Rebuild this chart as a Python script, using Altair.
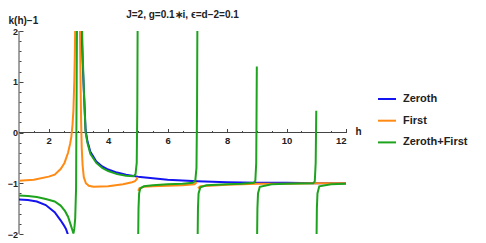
import altair as alt
import pandas as pd

# ---------------- data ----------------
# Zeroth (blue): two branches
zeroth_h_1 = [1.0, 1.3, 1.6, 1.9, 2.2, 2.4, 2.5, 2.58, 2.64, 2.67]
zeroth_v_1 = [-1.32, -1.33, -1.36, -1.43, -1.57, -1.73, -1.82, -1.9, -2.0, -2.06]
zeroth_h_2 = [3.1, 3.14, 3.18, 3.24, 3.3, 3.4, 3.6, 3.8, 4.0, 4.3, 4.6, 5.0, 5.5, 6.0, 7.0, 8.0, 9.0, 10.0, 11.0, 12.0]
zeroth_v_2 = [2.05, 1.4, 0.85, 0.05, -0.17, -0.38, -0.57, -0.67, -0.73, -0.79, -0.83, -0.87, -0.9, -0.93, -0.96, -0.98, -0.99, -0.99, -1.0, -1.0]

# First (orange)
first_h_1 = [1.0, 1.5, 2.0, 2.2, 2.4, 2.53, 2.65, 2.72, 2.76, 2.8, 2.83, 2.86, 2.88, 2.89]
first_v_1 = [-0.95, -0.93, -0.87, -0.83, -0.72, -0.6, -0.4, -0.22, -0.09, 0.15, 0.43, 1.0, 1.6, 2.05]
first_h_2 = [3.05, 3.07, 3.09, 3.11, 3.14, 3.18, 3.25, 3.35, 3.5, 4.0, 4.5, 4.8, 4.9, 4.96, 4.99]
first_v_2 = [2.05, 1.0, 0.2, -0.3, -0.65, -0.88, -1.0, -1.05, -1.07, -1.06, -1.02, -0.98, -0.96, -0.92, -0.88]
first_h_3 = [5.01, 5.05, 5.2, 5.5, 6.0, 6.5, 6.9, 6.98]
first_v_3 = [-1.15, -1.1, -1.07, -1.06, -1.05, -1.04, -1.02, -0.98]
first_h_4 = [7.02, 7.1, 8.0, 9.0, 10.0, 11.0, 12.0]
first_v_4 = [-1.1, -1.06, -1.03, -1.01, -1.01, -1.0, -1.0]

# Zeroth+First (green)
both_h_1 = [1.0, 1.3, 1.6, 1.9, 2.2, 2.4, 2.55, 2.65, 2.75, 2.8, 2.83, 2.86, 2.89, 2.92, 2.93, 2.94, 2.95]
both_v_1 = [-1.24, -1.25, -1.27, -1.31, -1.36, -1.44, -1.55, -1.66, -1.84, -1.93, -1.99, -1.9, -1.7, -1.1, 0.0, 1.0, 2.05]
both_h_2 = [3.12, 3.15, 3.185, 3.24, 3.3, 3.4, 3.6, 3.8, 4.0, 4.3, 4.6, 4.85, 4.92, 4.96, 4.98, 4.99]
both_v_2 = [2.05, 1.4, 0.78, 0.0, -0.2, -0.42, -0.6, -0.7, -0.76, -0.82, -0.85, -0.86, -0.82, -0.6, 0.5, 2.05]
both_h_3 = [5.01, 5.02, 5.04, 5.08, 5.2, 5.5, 6.0, 6.5, 6.85, 6.93, 6.97, 6.99, 7.0]
both_v_3 = [-2.05, -1.5, -1.2, -1.1, -1.06, -1.04, -1.02, -1.01, -0.99, -0.95, -0.7, 0.5, 2.05]
both_h_4 = [7.01, 7.02, 7.04, 7.1, 7.3, 8.0, 8.5, 8.9, 8.95, 8.98, 8.99, 9.0]
both_v_4 = [-2.05, -1.5, -1.2, -1.08, -1.04, -1.02, -1.01, -0.99, -0.95, -0.6, 0.3, 1.3]
both_h_5 = [9.01, 9.02, 9.04, 9.1, 9.5, 10.0, 10.9, 10.95, 10.98, 11.0]
both_v_5 = [-2.05, -1.5, -1.2, -1.07, -1.02, -1.01, -1.0, -0.96, -0.6, 0.43]
both_h_6 = [11.01, 11.02, 11.04, 11.1, 11.5, 12.0]
both_v_6 = [-2.05, -1.5, -1.2, -1.06, -1.02, -1.01]

series_names = ["Zeroth", "First", "Zeroth+First"]
series_colors = ["#1414f0", "#ff8a14", "#1ea31e"]

x_major = [2, 4, 6, 8, 10, 12]
x_minor = [1.5, 2.5, 3, 3.5, 4.5, 5, 5.5, 6.5, 7, 7.5, 8.5, 9, 9.5, 10.5, 11, 11.5]
y_major = [-2, -1, 0, 1, 2]
y_minor = [-1.8, -1.6, -1.4, -1.2, -0.8, -0.6, -0.4, -0.2, 0.2, 0.4, 0.6, 0.8, 1.2, 1.4, 1.6, 1.8]

title_text = "J=2, g=0.1\u2217i, \u03f5=d\u22122=0.1"

# ---------------- build table ----------------
segments = [
    ("Zeroth", "z1", zeroth_h_1, zeroth_v_1),
    ("Zeroth", "z2", zeroth_h_2, zeroth_v_2),
    ("First", "f1", first_h_1, first_v_1),
    ("First", "f2", first_h_2, first_v_2),
    ("First", "f3", first_h_3, first_v_3),
    ("First", "f4", first_h_4, first_v_4),
    ("Zeroth+First", "b1", both_h_1, both_v_1),
    ("Zeroth+First", "b2", both_h_2, both_v_2),
    ("Zeroth+First", "b3", both_h_3, both_v_3),
    ("Zeroth+First", "b4", both_h_4, both_v_4),
    ("Zeroth+First", "b5", both_h_5, both_v_5),
    ("Zeroth+First", "b6", both_h_6, both_v_6),
]
rows = []
for s, seg, hs, vs in segments:
    for h, v in zip(hs, vs):
        rows.append({"series": s, "seg": seg, "h": h, "v": v})
df = pd.DataFrame(rows)

FONT = "Liberation Sans"
PAD_L = 11
W, H = 327, 203

xs = alt.Scale(domain=[1, 12], nice=False, zero=False)
ys = alt.Scale(domain=[-2, 2], nice=False, zero=False)
cs = alt.Scale(domain=series_names, range=series_colors)

x_axis_major = alt.Axis(values=x_major, orient="bottom", offset=-(H / 2 + 4), tickSize=4,
                        domain=False, grid=False, labelPadding=3, labelFontSize=9.5,
                        labelFont=FONT, labelFontWeight="bold", labelColor="#222",
                        tickColor="#444", title="h", titleFont=FONT, titleFontSize=10,
                        titleFontWeight="bold", titleAngle=0, titleAlign="left",
                        titleBaseline="alphabetic", titleX=W + 9, titleY=6, titleColor="#222")
x_axis_minor = alt.Axis(values=x_minor, orient="bottom", offset=-(H / 2 + 2), tickSize=2,
                        domain=False, grid=False, labels=False, tickColor="#444", title=None)
y_axis_major = alt.Axis(values=y_major, orient="left", offset=-4, tickSize=4,
                        domain=False, grid=False, labelPadding=1.5, labelFontSize=9,
                        labelFont=FONT, labelFontWeight="bold", labelColor="#222",
                        labelExpr="replace(datum.label, '-', '\u2212')",
                        tickColor="#444", title="k(h)\u22121", titleFont=FONT, titleFontSize=10,
                        titleFontWeight="bold", titleAngle=0, titleAlign="left",
                        titleBaseline="alphabetic", titleX=-15, titleY=-8, titleColor="#222")
y_axis_minor = alt.Axis(values=y_minor, orient="left", offset=-2, tickSize=2,
                        domain=False, grid=False, labels=False, tickColor="#444", title=None)

legend = alt.Legend(title=None, orient="none", legendX=358, legendY=58,
                    symbolType="stroke", symbolSize=324, symbolStrokeWidth=2,
                    labelFont=FONT, labelFontSize=11, labelFontWeight="bold", labelColor="#222",
                    labelOffset=6, rowPadding=6.7, padding=0)

def series_layer(name, xaxis, yaxis, leg):
    return alt.Chart(df[df.series == name]).mark_line(strokeWidth=2, clip=True).encode(
        x=alt.X("h:Q", scale=xs, axis=xaxis),
        y=alt.Y("v:Q", scale=ys, axis=yaxis),
        color=alt.Color("series:N", scale=cs, legend=leg),
        detail="seg:N",
    )

base_rule = alt.Chart(df.head(1))
x_line = base_rule.mark_rule(color="#444", strokeWidth=1).encode(
    y=alt.YDatum(0, scale=ys, axis=None))
y_line = base_rule.mark_rule(color="#444", strokeWidth=1).encode(
    x=alt.XDatum(1, scale=xs, axis=None))

l_zeroth = series_layer("Zeroth", x_axis_major, y_axis_major, legend)
l_first = series_layer("First", x_axis_minor, y_axis_minor, legend)
l_both = series_layer("Zeroth+First", None, None, legend)

chart = alt.layer(x_line, y_line, l_zeroth, l_first, l_both).resolve_axis(
    x="independent", y="independent"
).properties(
    width=W, height=H,
    title=alt.TitleParams(title_text, font=FONT, fontSize=10, fontWeight="bold",
                          color="#222", anchor="middle", offset=2, dy=7),
    autosize=alt.AutoSizeParams(type="none"),
    padding={"left": PAD_L, "top": 23, "right": 470 - PAD_L - W, "bottom": 6},
).configure_view(stroke=None)

chart.save("out.html", embed_options={"renderer": "svg", "actions": False})
